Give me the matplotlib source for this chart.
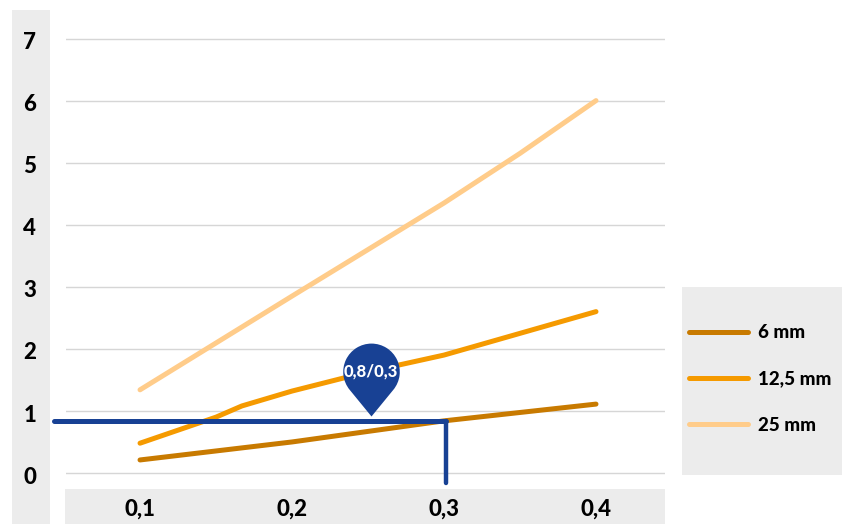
import numpy as np
import matplotlib
matplotlib.use("Agg")
import matplotlib.pyplot as plt
from matplotlib.path import Path
from matplotlib.patches import Rectangle
from matplotlib.transforms import ScaledTranslation

plt.rcParams["font.family"] = ["Lato", "DejaVu Sans"]
plt.rcParams["font.weight"] = 900

# Data
x_ticks = [0.1, 0.2, 0.3, 0.4]
x_labels = ["0,1", "0,2", "0,3", "0,4"]
y_ticks = [0, 1, 2, 3, 4, 5, 6, 7]

x_6mm = [0.1, 0.2, 0.3, 0.4]
y_6mm = [0.21, 0.50, 0.84, 1.11]
x_12mm = [0.1, 0.15, 0.167, 0.2, 0.25, 0.3, 0.35, 0.4]
y_12mm = [0.48, 0.90, 1.08, 1.32, 1.63, 1.90, 2.25, 2.60]
x_25mm = [0.1, 0.2, 0.3, 0.35, 0.4]
y_25mm = [1.34, 2.85, 4.35, 5.15, 6.0]

read_x = 0.3013
read_y = 0.84
pin_x = 0.252
pin_y = 0.92
pin_label = "0,8/0,3"

W, H = 842, 524
GREY = "#ececec"
BLUE = "#184194"


def px_rect(x0, y0, x1, y1):
    # rectangle given in image pixels, y from the top
    return Rectangle((x0 / W, 1 - y1 / H), (x1 - x0) / W, (y1 - y0) / H,
                     transform=fig.transFigure, facecolor=GREY, edgecolor="none", zorder=0)


def pin_marker():
    # tip at origin, round head above it
    r, d = 28.5, 45.0
    a = np.degrees(np.arccos(r / d))
    arc = Path.arc(-90 + a, 270 - a)
    verts = np.vstack([[[0, 0]], arc.vertices * r + [0, d], [[0, 0]]])
    codes = [Path.MOVETO, Path.LINETO] + list(arc.codes[1:]) + [Path.CLOSEPOLY]
    return Path(verts, codes)


fig = plt.figure(figsize=(W / 100, H / 100), dpi=100, facecolor="white")
ax = fig.add_axes([66 / W, 1 - 489 / H, (665 - 66) / W, (489 - 10) / H])
ax.patch.set_alpha(0)

# Grey bands behind the ticks and legend
fig.add_artist(px_rect(12, 10, 50, 524))
fig.add_artist(px_rect(65, 489, 665, 524))
fig.add_artist(px_rect(682, 287, 842, 475))

ax.set_xlim(0.0513, 0.4454)
ax.set_ylim(-0.258, 7.46)
ax.set_xticks(x_ticks, x_labels)
ax.set_yticks(y_ticks)
ax.tick_params(length=0, labelsize=16, labelcolor="black")
ax.tick_params(axis="y", pad=26)
ax.tick_params(axis="x", pad=7)
nudge = ScaledTranslation(0, -1.5 / 72, fig.dpi_scale_trans)
for lab in ax.get_yticklabels():
    lab.set_ha("center")
    lab.set_transform(lab.get_transform() + nudge)
ax.grid(axis="y", color="#d6d6d6", lw=1.0)
ax.set_axisbelow(True)
for s in ax.spines.values():
    s.set_visible(False)

# Series
line_style = dict(lw=3.6, solid_capstyle="round", solid_joinstyle="round")
ax.plot(x_6mm, y_6mm, color="#C87A00", label="6 mm", **line_style)
ax.plot(x_12mm, y_12mm, color="#F59A00", label="12,5 mm", **line_style)
ax.plot(x_25mm, y_25mm, color="#FFCC8A", label="25 mm", **line_style)

# Reading lines
ax.plot([0.0434, read_x], [read_y, read_y], color=BLUE, lw=3.6,
        solid_capstyle="round", clip_on=False, zorder=5)
ax.plot([read_x, read_x], [read_y, -0.16], color=BLUE, lw=3.2,
        solid_capstyle="round", clip_on=False, zorder=5)

# Pin
ax.scatter([pin_x], [pin_y], marker=pin_marker(), s=105 ** 2,
           color=BLUE, linewidths=0, zorder=6)
ax.annotate(pin_label, (pin_x, pin_y), xytext=(0, 32), textcoords="offset points",
            ha="center", va="center", color="white", fontsize=12, zorder=7)

ax.legend(loc="center left", bbox_to_anchor=(689 / W, 1 - 379 / H),
          bbox_transform=fig.transFigure, frameon=False, fontsize=13.5,
          handlelength=3.15, handletextpad=0.55, labelspacing=1.55,
          borderpad=0, borderaxespad=0, labelcolor="black")

fig.savefig("out.png", dpi=100)
